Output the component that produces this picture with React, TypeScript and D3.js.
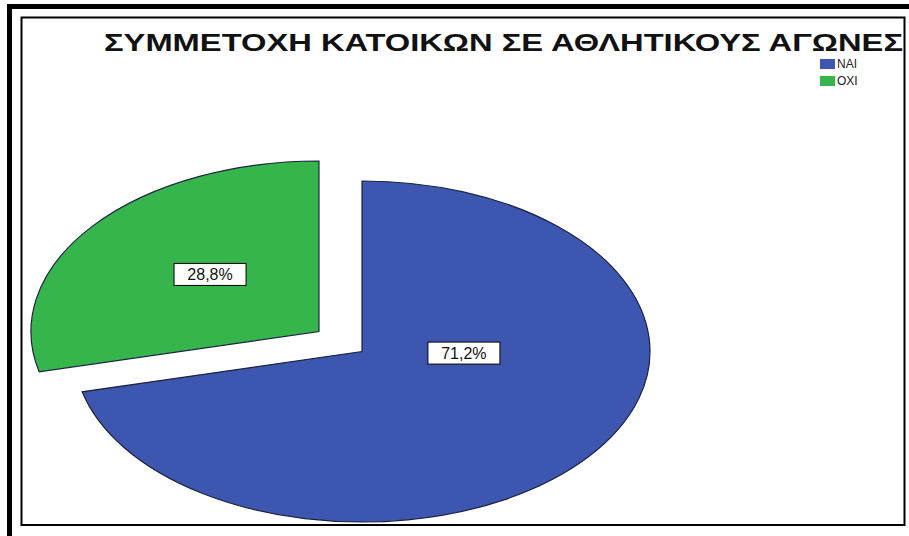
import React from 'react';
import * as d3 from 'd3';

const categories = ['NAI', 'OXI'];
const percents = [71.2, 28.8];
const labels = ['71,2%', '28,8%'];
const colors = ['#3d57b1', '#35b54b'];
const exploded = [false, true];
const title = 'ΣΥΜΜΕΤΟΧΗ ΚΑΤΟΙΚΩΝ ΣΕ ΑΘΛΗΤΙΚΟΥΣ ΑΓΩΝΕΣ';

const W = 909;
const H = 536;
// elliptical pie (the source image is stretched horizontally)
const cx = 362;
const cy = 351.5;
const rx = 288;
const ry = 170.5;
const R = 100;
const explodeDist = 0.19;

// label placement per slice, in unit-circle terms: [angle in degrees clockwise from 12, radius]
const labelPlace: Array<[number, number]> = [[91.5, 0.354], [311.5, 0.505]];

const App: React.FC = () => {
  const pie = d3.pie<number>().sort(null).startAngle(0).endAngle(2 * Math.PI);
  const arcs = pie(percents);
  const arc = d3.arc<d3.PieArcDatum<number>>().innerRadius(0).outerRadius(R);

  return (
    <svg width={W} height={H} style={{ position: 'absolute', left: 0, top: 0, background: '#fff' }}
      fontFamily="Arial, 'Liberation Sans', sans-serif">
      {/* outer thick frame */}
      <line x1={9.5} y1={4} x2={9.5} y2={H} stroke="#000" strokeWidth={5} />
      <line x1={7} y1={6.5} x2={W} y2={6.5} stroke="#000" strokeWidth={5} />
      {/* chart frame */}
      <rect x={21.5} y={17.5} width={883} height={507.5} fill="#fff" stroke="#000" strokeWidth={2} />

      {arcs.map((a, i) => {
        const mid = (a.startAngle + a.endAngle) / 2;
        const d = exploded[i] ? explodeDist : 0;
        const ox = cx + Math.sin(mid) * d * rx;
        const oy = cy - Math.cos(mid) * d * ry;
        const [ldeg, lr] = labelPlace[i];
        const la = (ldeg * Math.PI) / 180;
        const lx = ox + Math.sin(la) * lr * rx;
        const ly = oy - Math.cos(la) * lr * ry;
        return (
          <g key={categories[i]}>
            <path
              d={arc(a) || ''}
              transform={`translate(${ox},${oy}) scale(${rx / R},${ry / R})`}
              fill={colors[i]}
              stroke="#1c2340"
              strokeWidth={1.2}
              vectorEffect="non-scaling-stroke"
            />
            <rect x={lx - 36} y={ly - 11} width={72} height={22} fill="#fff" stroke="#000" strokeWidth={1} />
            <text x={lx} y={ly} textAnchor="middle" dominantBaseline="central" fontSize={16} fill="#111">
              {labels[i]}
            </text>
          </g>
        );
      })}

      <text x={104} y={51} fontSize={23} fontWeight="bold" fill="#111" textLength={799} lengthAdjust="spacingAndGlyphs">
        {title}
      </text>

      {categories.map((c, i) => (
        <g key={c} transform={`translate(820,${59 + i * 17})`}>
          <rect x={0} y={0} width={15} height={10} fill={colors[i]} />
          <text x={17} y={5} dominantBaseline="central" fontSize={12} fill="#222">{c}</text>
        </g>
      ))}
    </svg>
  );
};

export default App;
